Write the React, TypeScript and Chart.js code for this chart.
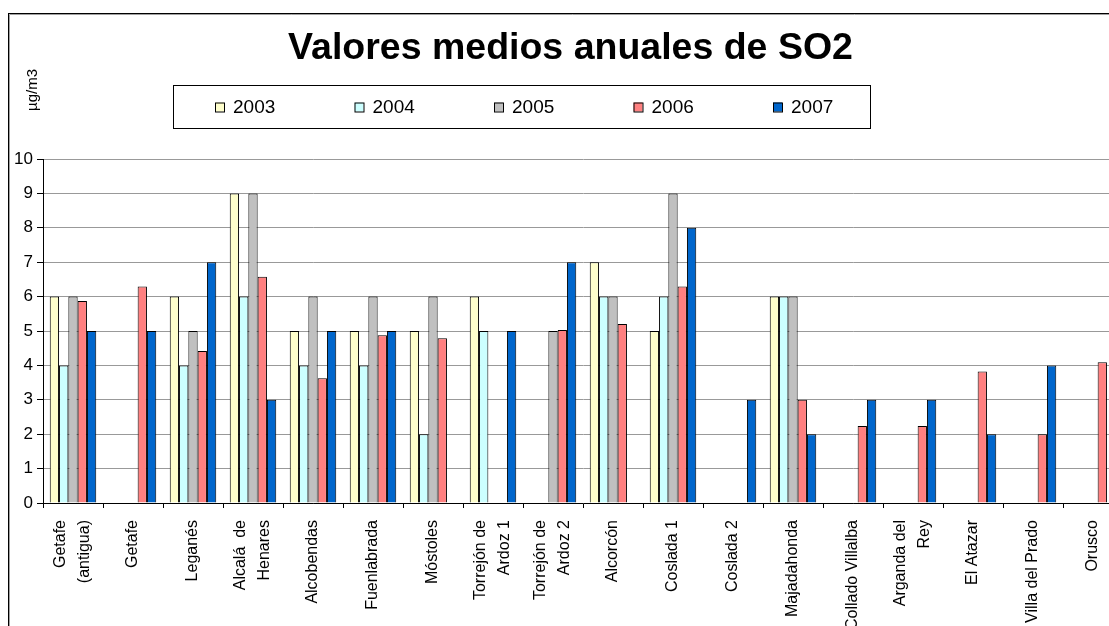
import React, { useEffect, useRef } from 'react';
import { Chart, registerables } from 'chart.js';

Chart.register(...registerables);

const categories: (string | string[])[] = [
  ['Getafe', '(antigua)'],
  'Getafe',
  'Leganés',
  ['Alcalá  de', 'Henares'],
  'Alcobendas',
  'Fuenlabrada',
  'Móstoles',
  ['Torrejón de', 'Ardoz 1'],
  ['Torrejón de', 'Ardoz 2'],
  'Alcorcón',
  'Coslada 1',
  'Coslada 2',
  'Majadahonda',
  'Collado Villalba',
  ['Arganda del', 'Rey'],
  'El Atazar',
  'Villa del Prado',
  'Orusco',
];

const years = ['2003', '2004', '2005', '2006', '2007'];

const v2003 = [6, null, 6, 9, 5, 5, 5, 6, null, 7, 5, null, 6, null, null, null, null, null];
const v2004 = [4, null, 4, 6, 4, 4, 2, 5, null, 6, 6, null, 6, null, null, null, null, null];
const v2005 = [6, null, 5, 9, 6, 6, 6, null, 5, 6, 9, null, 6, null, null, null, null, null];
const v2006 = [5.87, 6.29, 4.42, 6.58, 3.63, 4.88, 4.79, null, 5.03, 5.2, 6.29, null, 3, 2.24, 2.24, 3.82, 2, 4.09];
const v2007 = [5, 5, 7, 3, 5, 5, null, 5, 7, null, 8, 3, 2, 3, 3, 2, 4, null];

const series = [v2003, v2004, v2005, v2006, v2007];
const fills = ['#FFFFCC', '#CCFFFF', '#C0C0C0', '#FF8080', '#0066CC'];

const titleText = 'Valores medios anuales de SO2';
const yTitle = 'µg/m3';
const yTicks = [0, 1, 2, 3, 4, 5, 6, 7, 8, 9, 10];

const FONT = '"Liberation Sans", Arial, sans-serif';
const W = 1128;
const H = 660;

const customDraw = {
  id: 'customDraw',
  afterDraw(chart: any) {
    const ctx = chart.ctx;
    const area = chart.chartArea;
    ctx.save();
    // outer frame
    ctx.strokeStyle = '#000';
    ctx.lineWidth = 1;
    ctx.strokeRect(0.5, 0.5, W - 1, H - 1);
    ctx.strokeStyle = '#a0a0a0';
    ctx.beginPath();
    ctx.moveTo(1.5, H);
    ctx.lineTo(1.5, 1.5);
    ctx.lineTo(W, 1.5);
    ctx.stroke();

    // title
    ctx.font = `bold 37.5px ${FONT}`;
    ctx.fillStyle = '#000';
    ctx.textAlign = 'center';
    ctx.textBaseline = 'middle';
    ctx.fillText(titleText, 562.5, 35.5);

    // legend box
    const lx = 165, ly = 72.5, lw = 697, lh = 43;
    ctx.strokeStyle = '#000';
    ctx.lineWidth = 1;
    ctx.strokeRect(lx + 0.5, ly, lw, lh);
    ctx.font = `19px ${FONT}`;
    ctx.textBaseline = 'middle';
    ctx.textAlign = 'left';
    const cy = ly + lh / 2;
    chart.data.datasets.forEach((ds: any, i: number) => {
      const sx = lx + 42 + i * 139.5;
      ctx.fillStyle = ds.backgroundColor;
      ctx.fillRect(sx, cy - 4.5, 9, 9);
      ctx.strokeStyle = '#000';
      ctx.strokeRect(sx + 0.5, cy - 4.5 + 0.5, 9, 9);
      ctx.fillStyle = '#000';
      ctx.fillText(ds.label, sx + 18, cy + 1);
    });

    // y title
    ctx.save();
    ctx.translate(25, 77);
    ctx.rotate(-Math.PI / 2);
    ctx.font = `15px ${FONT}`;
    ctx.textAlign = 'center';
    ctx.textBaseline = 'middle';
    ctx.fillStyle = '#000';
    ctx.fillText(yTitle, 0, 0);
    ctx.restore();

    // x labels
    const xs = chart.scales.x;
    ctx.font = `16px ${FONT}`;
    ctx.fillStyle = '#000';
    const lineH = 24;
    categories.forEach((lab, i) => {
      const lines = Array.isArray(lab) ? lab : [lab];
      const x = xs.getPixelForValue(i);
      lines.forEach((line, j) => {
        ctx.save();
        ctx.translate(x + (j - (lines.length - 1) / 2) * lineH, area.bottom + 17);
        ctx.rotate(-Math.PI / 2);
        ctx.textAlign = 'right';
        ctx.textBaseline = 'middle';
        ctx.fillText(line, 0, 0);
        ctx.restore();
      });
    });
    ctx.restore();
  },
};

export default function App() {
  const ref = useRef<HTMLCanvasElement | null>(null);
  useEffect(() => {
    if (!ref.current) return;
    const chart = new Chart(ref.current, {
      type: 'bar',
      data: {
        labels: categories.map((c) => (Array.isArray(c) ? c.join(' ') : c)),
        datasets: years.map((y, i) => ({
          label: y,
          data: series[i],
          backgroundColor: fills[i],
          borderColor: '#000',
          borderWidth: 1,
          categoryPercentage: 0.775,
          barPercentage: 1,
        })),
      },
      options: {
        animation: false,
        responsive: false,
        maintainAspectRatio: false,
        layout: { padding: { left: 0, right: 13, top: 146, bottom: 0 } },
        plugins: {
          legend: { display: false },
          tooltip: { enabled: false },
          title: { display: false },
        },
        scales: {
          x: {
            grid: { drawOnChartArea: false, drawTicks: true, tickLength: 5, tickColor: '#000', offset: true },
            border: { color: '#000', width: 1 },
            ticks: { display: false },
            afterFit: (s: any) => {
              s.height = H - 490;
            },
          },
          y: {
            min: 0,
            max: 10,
            afterBuildTicks: (s: any) => {
              s.ticks = yTicks.map((v) => ({ value: v }));
            },
            ticks: { color: '#000', font: { family: FONT, size: 17 }, padding: 4 },
            grid: { color: '#999', tickColor: '#000', tickLength: 6 },
            border: { color: '#000', width: 1 },
            afterFit: (s: any) => {
              s.width = 35;
            },
          },
        },
      },
      plugins: [customDraw],
    } as any);
    return () => chart.destroy();
  }, []);
  return (
    <div style={{ position: 'fixed', left: 0, top: 0, width: 1109, height: 626, overflow: 'hidden', background: '#fff' }}>
      <canvas
        ref={ref}
        width={W}
        height={H}
        style={{ position: 'absolute', left: 8, top: 13, width: W, height: H, display: 'block' }}
      />
    </div>
  );
}
